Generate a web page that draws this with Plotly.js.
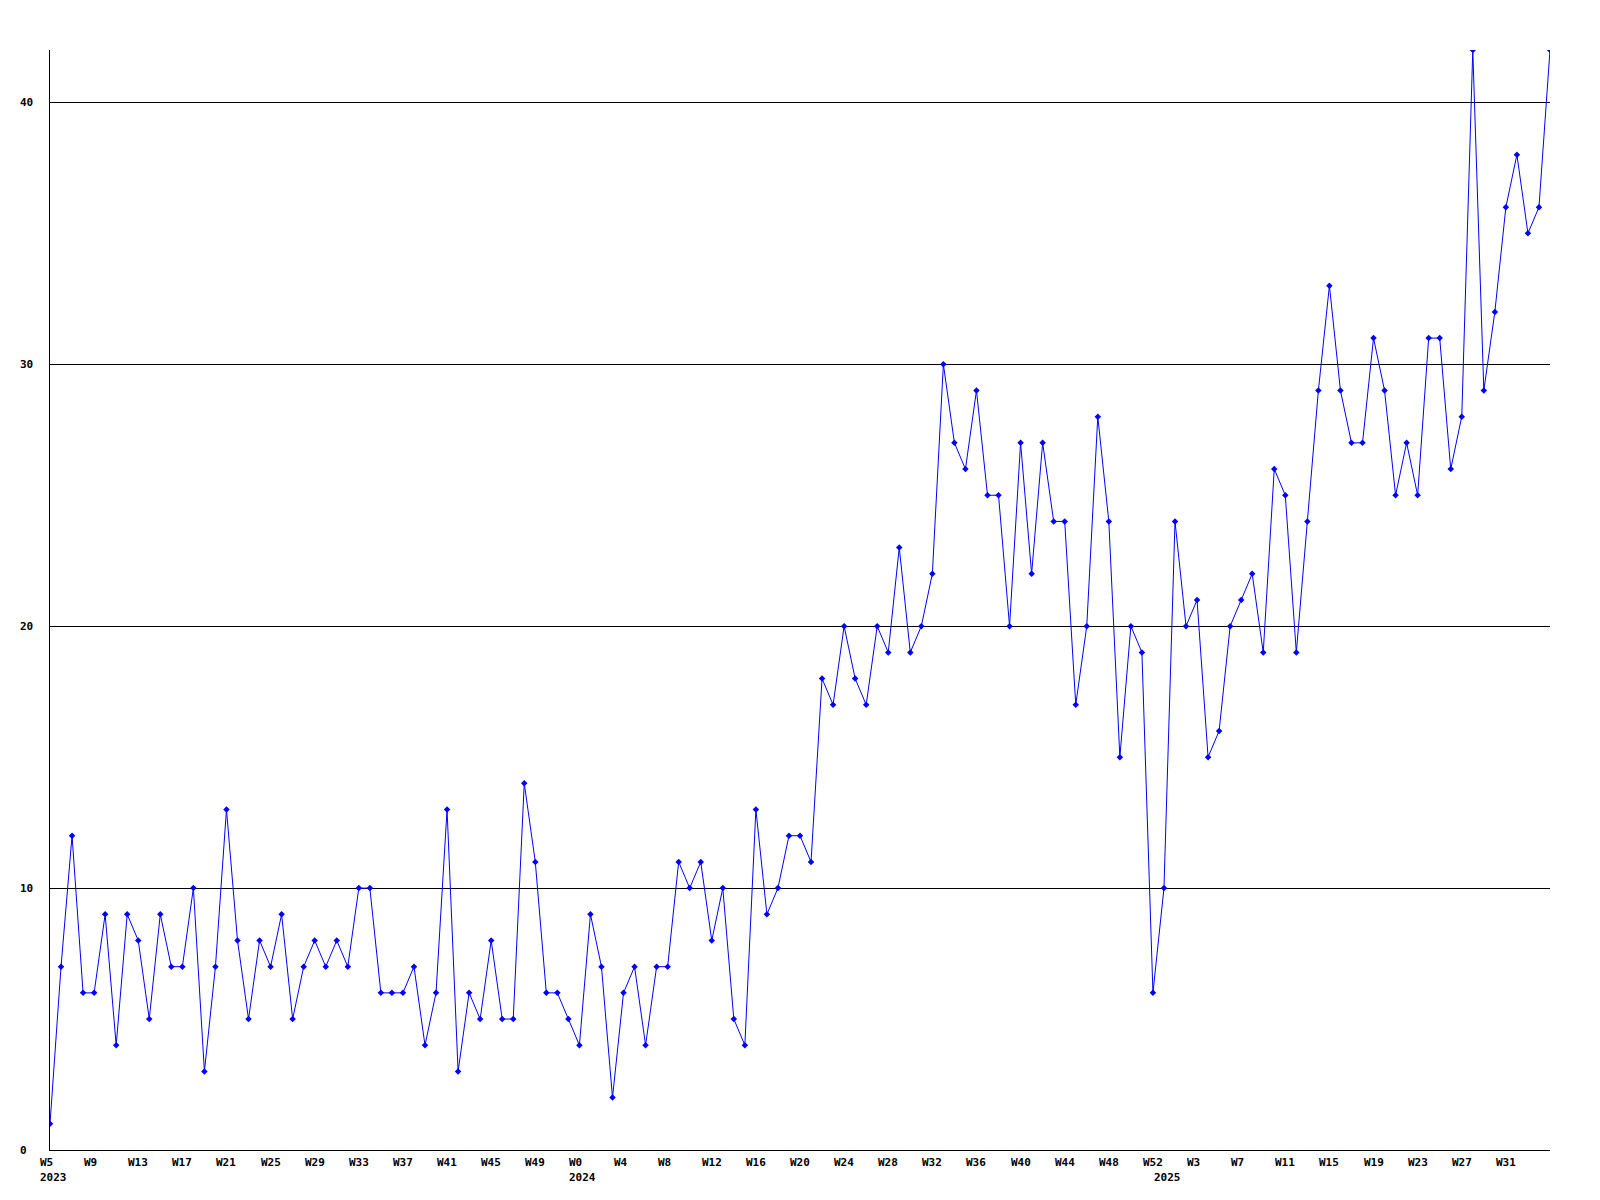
<!DOCTYPE html>
<html>
<head>
<meta charset="utf-8">
<script src="https://cdn.plot.ly/plotly-3.0.1.min.js"></script>
<style>
  html, body { margin: 0; padding: 0; background: #ffffff; }
  #chart { width: 1600px; height: 1200px; }
</style>
</head>
<body>
<div id="chart"></div>
<script>
// ---- data ----
const years = [2023, 2024, 2025];
const firstWeeks = [5, 0, 0];
const lastWeeks = [52, 52, 35];

const values = [
  1, 7, 12, 6, 6, 9, 4, 9, 8, 5, 9, 7, 7, 10, 3, 7, 13, 8, 5, 8,
  7, 9, 5, 7, 8, 7, 8, 7, 10, 10, 6, 6, 6, 7, 4, 6, 13, 3, 6, 5,
  8, 5, 5, 14, 11, 6, 6, 5, 4, 9, 7, 2, 6, 7, 4, 7, 7, 11, 10, 11,
  8, 10, 5, 4, 13, 9, 10, 12, 12, 11, 18, 17, 20, 18, 17, 20, 19, 23, 19, 20,
  22, 30, 27, 26, 29, 25, 25, 20, 27, 22, 27, 24, 24, 17, 20, 28, 24, 15, 20, 19,
  6, 10, 24, 20, 21, 15, 16, 20, 21, 22, 19, 26, 25, 19, 24, 29, 33, 29, 27, 27,
  31, 29, 25, 27, 25, 31, 31, 26, 28, 42, 29, 32, 36, 38, 35, 36, 42
];

const yTickValues = [0, 10, 20, 30, 40];
const tickEvery = 4;

// ---- build week categories ----
const weekNames = [];
const weekYears = [];
years.forEach((yr, k) => {
  for (let w = firstWeeks[k]; w <= lastWeeks[k]; w++) {
    weekNames.push('W' + w);
    weekYears.push(yr);
  }
});
const xs = values.map((v, i) => i);

const FONT = { family: 'DejaVu Sans Mono, monospace', size: 11, color: '#000000', weight: 'bold' };

const annotations = [];
// week tick labels (none at the very last point)
for (let i = 0; i < weekNames.length - 1; i += tickEvery) {
  annotations.push({
    x: i, xref: 'x', y: 0, yref: 'paper',
    text: weekNames[i], showarrow: false,
    xanchor: 'left', yanchor: 'middle',
    xshift: -11, yshift: -12,
    font: FONT, borderpad: 0
  });
}
// year labels at first week of each year
for (let i = 0; i < weekYears.length; i++) {
  if (i === 0 || weekYears[i] !== weekYears[i - 1]) {
    annotations.push({
      x: i, xref: 'x', y: 0, yref: 'paper',
      text: String(weekYears[i]), showarrow: false,
      xanchor: 'left', yanchor: 'middle',
      xshift: -11, yshift: -27,
      font: FONT, borderpad: 0
    });
  }
}
// y tick labels (left aligned)
yTickValues.forEach(v => {
  annotations.push({
    x: 0, xref: 'paper', y: v, yref: 'y',
    text: String(v), showarrow: false,
    xanchor: 'left', yanchor: 'middle',
    xshift: -31, yshift: 0,
    font: FONT, borderpad: 0
  });
});

const trace = {
  type: 'scatter',
  mode: 'lines+markers',
  x: xs,
  y: values,
  line: { color: '#0000ff', width: 1 },
  marker: { color: '#0000ff', symbol: 'diamond', size: 5, line: { width: 0 } },
  hoverinfo: 'skip'
};

const layout = {
  width: 1600,
  height: 1200,
  margin: { l: 50, r: 50, t: 50, b: 50, pad: 0 },
  paper_bgcolor: '#ffffff',
  plot_bgcolor: '#ffffff',
  showlegend: false,
  xaxis: {
    range: [0, values.length - 1],
    showgrid: false,
    zeroline: false,
    showline: true,
    linecolor: '#000000',
    linewidth: 1,
    ticks: '',
    showticklabels: false,
    fixedrange: true
  },
  yaxis: {
    range: [0, 42],
    tickvals: yTickValues,
    showgrid: true,
    gridcolor: '#000000',
    gridwidth: 1,
    zeroline: false,
    showline: true,
    linecolor: '#000000',
    linewidth: 1,
    ticks: '',
    showticklabels: false,
    fixedrange: true
  },
  annotations: annotations
};

Plotly.newPlot('chart', [trace], layout, { displayModeBar: false, staticPlot: true });
</script>
</body>
</html>
